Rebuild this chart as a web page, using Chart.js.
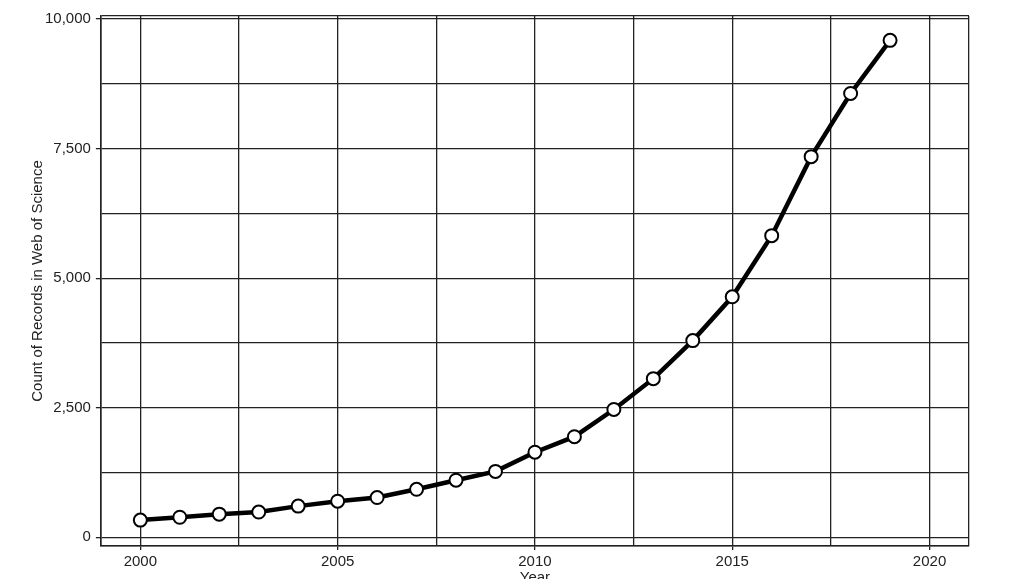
<!DOCTYPE html>
<html>
<head>
<meta charset="utf-8">
<script src="https://cdn.jsdelivr.net/npm/chart.js@4"></script>
<style>
  html, body { margin: 0; padding: 0; background: #fff; overflow: hidden; }
</style>
</head>
<body>
<canvas id="recordsChart" width="1024" height="600"></canvas>
<script>
// values
const years = [2000, 2001, 2002, 2003, 2004, 2005, 2006, 2007, 2008, 2009,
               2010, 2011, 2012, 2013, 2014, 2015, 2016, 2017, 2018, 2019];
const records = [330, 385, 445, 485, 600, 695, 765, 925, 1100, 1270,
                 1640, 1940, 2465, 3060, 3795, 4640, 5820, 7345, 8565, 9590];

const xTicks = [1999, 2000, 2002.5, 2005, 2007.5, 2010, 2012.5, 2015, 2017.5, 2020, 2021];
const xLabels = [2000, 2005, 2010, 2015, 2020];
const yTicks = [-170, 0, 1250, 2500, 3750, 5000, 6250, 7500, 8750, 10000, 10060];
const yLabels = [0, 2500, 5000, 7500, 10000];

const gridColor = "#222";
const textColor = "#222";
const fontFamily = "'Liberation Sans', Arial, sans-serif";

const ctx = document.getElementById("recordsChart").getContext("2d");

window.recordsChart = new Chart(ctx, {
    type: "scatter",
    data: {
        datasets: [{
            label: "Records",
            data: years.map((y, i) => ({ x: y, y: records[i] })),
            showLine: true,
            borderColor: "#000",
            borderWidth: 4.5,
            pointRadius: 6.5,
            pointBorderWidth: 2,
            pointBackgroundColor: "#fff",
            pointBorderColor: "#000",
            tension: 0
        }]
    },
    options: {
        responsive: false,
        animation: false,
        layout: { padding: { top: 16, right: 55, left: 29, bottom: 13 } },
        plugins: { legend: { display: false }, tooltip: { enabled: false } },
        scales: {
            x: {
                type: "linear",
                min: 1999,
                max: 2021,
                afterBuildTicks: axis => { axis.ticks = xTicks.map(v => ({ value: v })); },
                grid: {
                    color: gridColor,
                    lineWidth: 1.3,
                    tickLength: 4,
                    tickColor: c => xLabels.includes(c.tick && c.tick.value) ? gridColor : "rgba(0,0,0,0)"
                },
                border: { color: gridColor, width: 1.6 },
                ticks: {
                    autoSkip: false,
                    maxRotation: 0,
                    color: textColor,
                    font: { family: fontFamily, size: 15 },
                    padding: 3,
                    callback: v => xLabels.includes(v) ? String(v) : ""
                },
                title: {
                    display: true,
                    text: "Year",
                    color: textColor,
                    font: { family: fontFamily, size: 15 },
                    padding: { top: -5, bottom: 0 }
                }
            },
            y: {
                type: "linear",
                min: -170,
                max: 10060,
                afterBuildTicks: axis => { axis.ticks = yTicks.map(v => ({ value: v })); },
                grid: {
                    color: gridColor,
                    lineWidth: 1.3,
                    tickLength: 5,
                    tickColor: c => yLabels.includes(c.tick && c.tick.value) ? gridColor : "rgba(0,0,0,0)"
                },
                border: { color: gridColor, width: 1.6 },
                ticks: {
                    autoSkip: false,
                    color: textColor,
                    font: { family: fontFamily, size: 15 },
                    padding: 5,
                    callback: v => yLabels.includes(v) ? v.toLocaleString("en-US") : ""
                },
                title: {
                    display: true,
                    text: "Count of Records in Web of Science",
                    color: textColor,
                    font: { family: fontFamily, size: 15 },
                    padding: { top: 0, bottom: -7 }
                }
            }
        }
    }
});
</script>
</body>
</html>
